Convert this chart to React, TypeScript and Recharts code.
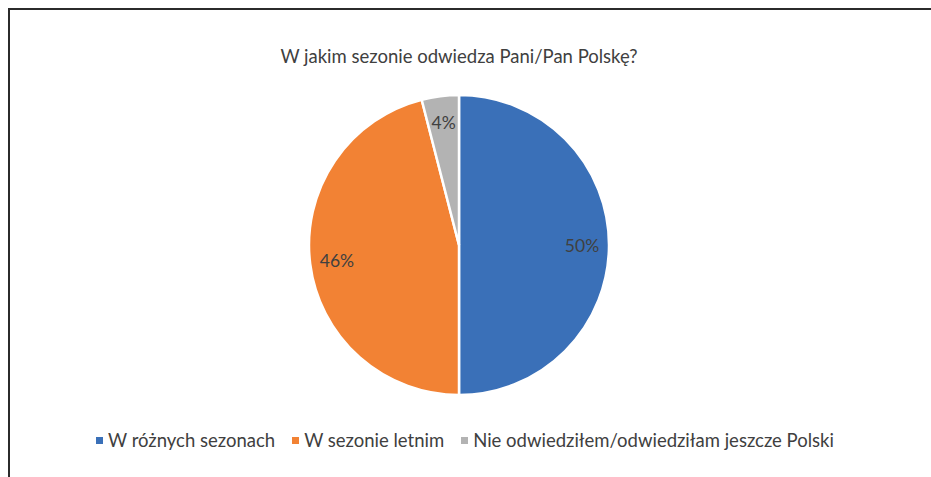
import React from 'react';
import { PieChart, Pie, Cell } from 'recharts';

const CATEGORIES = ['W różnych sezonach', 'W sezonie letnim', 'Nie odwiedziłem/odwiedziłam jeszcze Polski'];
const VALUES = [50, 46, 4];
const COLORS = ['#3a70b8', '#f28234', '#b3b3b3'];
const TITLE = 'W jakim sezonie odwiedza Pani/Pan Polskę?';

const data = CATEGORIES.map((name, i) => ({ name, value: VALUES[i] }));

const FONT = 'Lato, "Open Sans", sans-serif';
const RAD = Math.PI / 180;

const renderLabel = (props: any) => {
  const { cx, cy, midAngle, outerRadius, percent } = props;
  const r = outerRadius * 0.82;
  const x = cx + r * Math.cos(-midAngle * RAD);
  const y = cy + r * Math.sin(-midAngle * RAD);
  return (
    <text
      x={x}
      y={y}
      fill="#404040"
      fontSize={17.5}
      fontFamily={FONT}
      textAnchor="middle"
      dominantBaseline="central"
    >
      {`${Math.round(percent * 100)}%`}
    </text>
  );
};

export default function App() {
  return (
    <div
      style={{
        position: 'absolute',
        left: 0,
        top: 0,
        width: 931,
        height: 477,
        overflow: 'hidden',
        background: '#ffffff',
      }}
    >
      <div
        style={{
          position: 'absolute',
          left: 8,
          top: 8,
          width: 960,
          height: 520,
          border: '2px solid #2b2b2b',
          boxSizing: 'border-box',
        }}
      />
      <div
        style={{
          position: 'absolute',
          top: 45,
          left: 0,
          width: 918,
          textAlign: 'center',
          fontFamily: FONT,
          fontSize: 18.5,
          color: '#404040',
        }}
      >
        {TITLE}
      </div>
      <div style={{ position: 'absolute', left: 0, top: 0 }}>
        <PieChart width={931} height={477} margin={{ top: 0, right: 0, bottom: 0, left: 0 }}>
          <Pie
            data={data}
            dataKey="value"
            nameKey="name"
            cx={459}
            cy={245}
            outerRadius={150}
            startAngle={90}
            endAngle={-270}
            stroke="#ffffff"
            strokeWidth={2.5}
            labelLine={false}
            label={renderLabel}
            isAnimationActive={false}
          >
            {data.map((entry, index) => (
              <Cell key={`cell-${index}`} fill={COLORS[index % COLORS.length]} />
            ))}
          </Pie>
        </PieChart>
      </div>
      {/* legend kept outside the chart so it does not shrink the plot area */}
      <div
        style={{
          position: 'absolute',
          top: 429,
          left: 0,
          width: 931,
          display: 'flex',
          justifyContent: 'center',
          alignItems: 'center',
          fontFamily: FONT,
          fontSize: 18.5,
          color: '#404040',
          whiteSpace: 'nowrap',
        }}
      >
        <div style={{ display: 'flex', alignItems: 'center', marginLeft: 16 }}>
          {data.map((entry, index) => (
            <div key={`item-${index}`} style={{ display: 'flex', alignItems: 'center', marginRight: 17 }}>
              <div style={{ width: 7, height: 7, background: COLORS[index], marginRight: 5 }} />
              <span>{entry.name}</span>
            </div>
          ))}
        </div>
      </div>
    </div>
  );
}
